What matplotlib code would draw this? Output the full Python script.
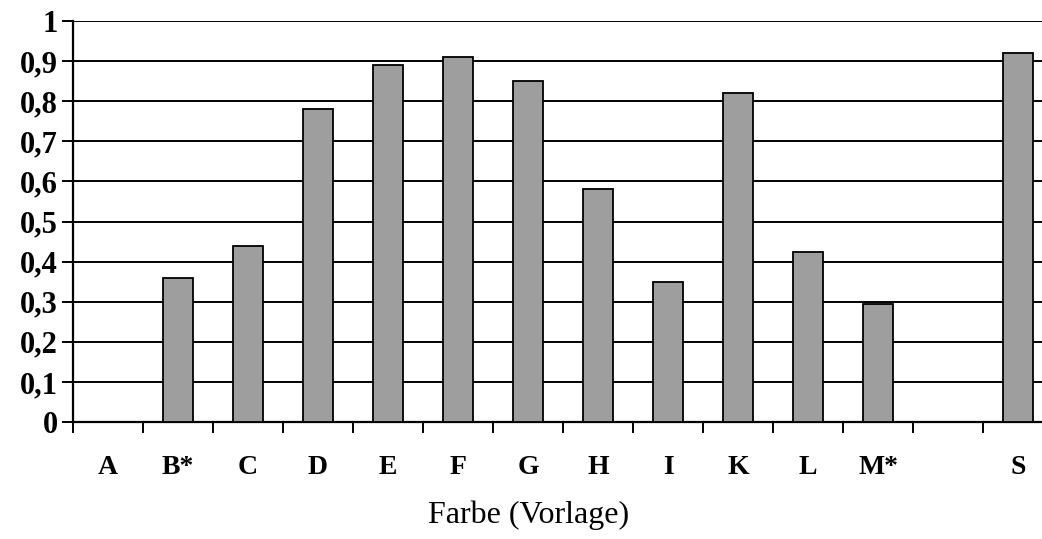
import numpy as np
import matplotlib
matplotlib.use("Agg")
import matplotlib.pyplot as plt

# Werte
categories = ["A", "B*", "C", "D", "E", "F", "G", "H", "I", "K", "L", "M*", "", "S"]
values = [0, 0.36, 0.44, 0.78, 0.89, 0.91, 0.85, 0.58, 0.35, 0.82, 0.425, 0.295, 0, 0.92]
y_ticks = [0, 0.1, 0.2, 0.3, 0.4, 0.5, 0.6, 0.7, 0.8, 0.9, 1]
y_labels = ["0", "0,1", "0,2", "0,3", "0,4", "0,5", "0,6", "0,7", "0,8", "0,9", "1"]

fig = plt.figure(figsize=(10.42, 5.39), dpi=100)
ax = fig.add_axes([0.070, 0.217, 0.930, 0.744])

x = np.arange(len(categories))
ax.bar(x, values, width=0.43, color="#9e9e9e", edgecolor="black", linewidth=1.3, zorder=3)

ax.set_ylim(0, 1)
ax.set_xlim(-0.5, 13.34)

ax.set_yticks(y_ticks)
ax.set_yticklabels(y_labels, fontfamily="Liberation Serif", fontweight="bold", fontsize=22)
ax.yaxis.grid(True, color="black", linewidth=1.4, zorder=0)
ax.set_axisbelow(True)

ax.set_xticks(x)
ax.set_xticklabels(categories, fontfamily="Liberation Serif", fontweight="bold", fontsize=20)
ax.set_xticks(np.arange(len(categories)) - 0.5, minor=True)
ax.tick_params(axis="x", which="major", length=0, pad=24)
ax.tick_params(axis="x", which="minor", length=8, width=1.4, direction="out")
ax.tick_params(axis="y", length=8, width=1.4, pad=3)

for s in ["top", "right"]:
    ax.spines[s].set_visible(False)
ax.spines["left"].set_linewidth(1.6)
ax.spines["bottom"].set_linewidth(1.6)

ax.set_xlabel("Farbe (Vorlage)", fontfamily="Liberation Serif", fontsize=23, va="center")
ax.xaxis.set_label_coords(0.47, -0.232)

fig.savefig("out.png", dpi=100)
